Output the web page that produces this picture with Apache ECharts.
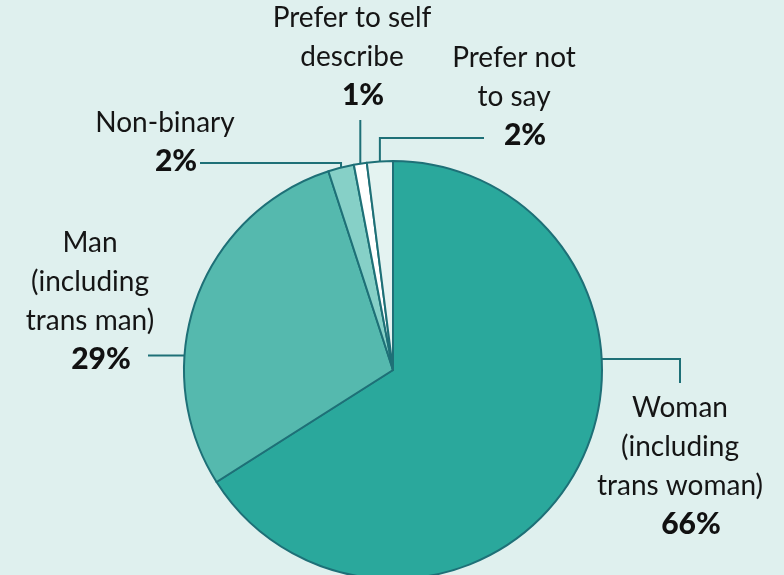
<!doctype html>
<html lang="en">
<head>
    <meta charset="UTF-8">
    <title>Gender</title>
    <script src="https://cdn.jsdelivr.net/npm/echarts@6/dist/echarts.min.js"></script>
    <style>
        html, body { margin: 0; padding: 0; background: #dff0ee; }
        #main { width: 784px; height: 575px; }
    </style>
</head>
<body>
<div id="main"></div>
<script>
    // data
    var names = ['Woman\n(including\ntrans woman)', 'Man\n(including\ntrans man)', 'Non-binary', 'Prefer to self\ndescribe', 'Prefer not\nto say'];
    var values = [66, 29, 2, 1, 2];
    var colors = ['#2aa89c', '#55b9ae', '#86d0c7', '#ffffff', '#e4f3f1'];

    // pie geometry (px)
    var cx = 393, cy = 370, r = 209;
    var lineColor = '#1e7077';

    // where each label sits and how its leader line bends
    // edge: angle of the line start, clockwise from 12 o'clock (null = slice middle)
    var labelSpots = [
        { x: 680, y: 388, edge: 87, path: function (p) { return [p, [680, p[1]], [680, 383]]; } },
        { x: 90, y: 223, edge: 274, path: function (p) { return [p, [148, p[1]], [148, p[1]]]; } },
        { x: 165, y: 103, edge: null, path: function (p) { return [p, [p[0], 163], [200, 163]]; } },
        { x: 352, y: -2, edge: null, path: function (p) { return [p, [p[0], 120], [p[0], 120]]; } },
        { x: 514, y: 38, edge: null, path: function (p) { return [p, [p[0], 138], [484, 138]]; } }
    ];

    var total = values.reduce(function (a, b) { return a + b; }, 0);
    var midAngles = [];
    var acc = 0;
    values.forEach(function (v) {
        midAngles.push((acc + v / 2) / total * 360);
        acc += v;
    });

    function edgePoint(deg) {
        var a = deg * Math.PI / 180;
        return [cx + r * Math.sin(a), cy - r * Math.cos(a)];
    }

    var myChart = echarts.init(document.getElementById('main'));
    var option = {
        backgroundColor: '#dff0ee',
        animation: false,
        series: [{
            type: 'pie',
            center: [cx, cy],
            radius: r,
            startAngle: 90,
            clockwise: true,
            avoidLabelOverlap: false,
            silent: true,
            data: values.map(function (v, i) {
                return { name: names[i], value: v, itemStyle: { color: colors[i] } };
            }),
            itemStyle: {
                borderColor: lineColor,
                borderWidth: 2
            },
            label: {
                show: true,
                position: 'outside',
                formatter: function (p) {
                    return '{n|' + p.name.split('\n').join('}\n{n|') + '}\n{p|' + p.value + '%}';
                },
                rich: {
                    n: {
                        fontFamily: 'Lato',
                        fontSize: 28,
                        lineHeight: 39,
                        color: '#151515'
                    },
                    p: {
                        fontFamily: 'Lato',
                        fontWeight: 900,
                        fontSize: 30,
                        lineHeight: 38,
                        color: '#111111',
                        padding: [0, 0, 0, 22]
                    }
                }
            },
            labelLine: {
                show: true,
                length: 10,
                length2: 10,
                smooth: false,
                lineStyle: { color: lineColor, width: 2 }
            },
            labelLayout: function (params) {
                var s = labelSpots[params.dataIndex];
                var deg = s.edge == null ? midAngles[params.dataIndex] : s.edge;
                return {
                    x: s.x,
                    y: s.y,
                    align: 'center',
                    verticalAlign: 'top',
                    labelLinePoints: s.path(edgePoint(deg))
                };
            }
        }]
    };
    myChart.setOption(option);
</script>
</body>
</html>
